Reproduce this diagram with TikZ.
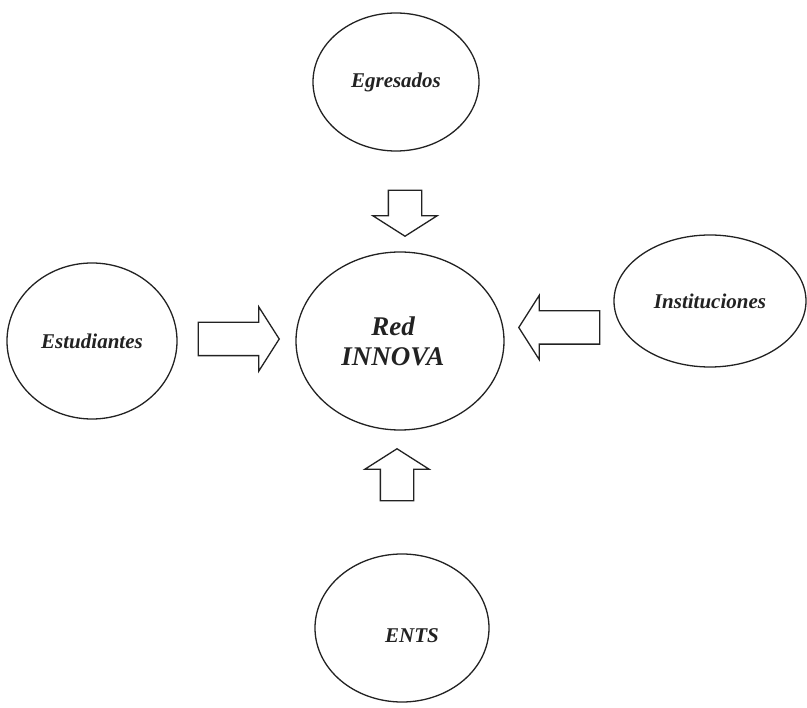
\documentclass[tikz,border=0pt]{standalone}
\usepackage{fontspec}
\setmainfont{Liberation Serif}
\usepackage{tikz}
\usetikzlibrary{shapes.geometric,shapes.arrows}
\definecolor{inkGrey}{RGB}{34,34,34}

\tikzset{
  entity/.style={ellipse, draw=inkGrey, line width=1.3pt, inner sep=0pt,
    text=inkGrey, font=\fontsize{21}{25}\selectfont\bfseries\itshape},
  blockarrow/.style={single arrow, draw=inkGrey, line width=1.3pt,
    inner xsep=0pt, inner ysep=16pt, single arrow head extend=15.5pt,
    single arrow tip angle=115, anchor=tip}
}

\begin{document}
\begin{tikzpicture}[x=1pt, y=-1pt]
    \useasboundingbox (0,0) rectangle (807,708);
    % ellipses
    \node[entity, minimum width=208pt, minimum height=178pt, align=center,
          font=\fontsize{27}{30}\selectfont\bfseries\itshape] (red) at (400,341)
          {Red\hspace*{14pt}\\INNOVA\hspace*{14pt}};
    \node[entity, minimum width=166pt, minimum height=138pt] (egre) at (396,82) {Egresados};
    \node[entity, minimum width=170pt, minimum height=156pt] (estu) at (92,341) {Estudiantes};
    \node[entity, minimum width=192pt, minimum height=132pt] (inst) at (710,301) {Instituciones};
    \node[entity, minimum width=174pt, minimum height=148pt] (ents) at (402,628) {};
    \node[text=inkGrey, font=\fontsize{21}{25}\selectfont\bfseries\itshape] (entsText) at (412,636) {ENTS};
    % block arrows, placed by their tips
    \node[blockarrow, minimum height=46pt, rotate=-90] (aTop) at (405,237) {};
    \node[blockarrow, minimum height=81pt] (aLeft) at (280,339) {};
    \node[blockarrow, minimum height=81pt, rotate=180] (aRight) at (518,327.5) {};
    \node[blockarrow, minimum height=52pt, rotate=90] (aBottom) at (397,448) {};
\end{tikzpicture}
\end{document}
